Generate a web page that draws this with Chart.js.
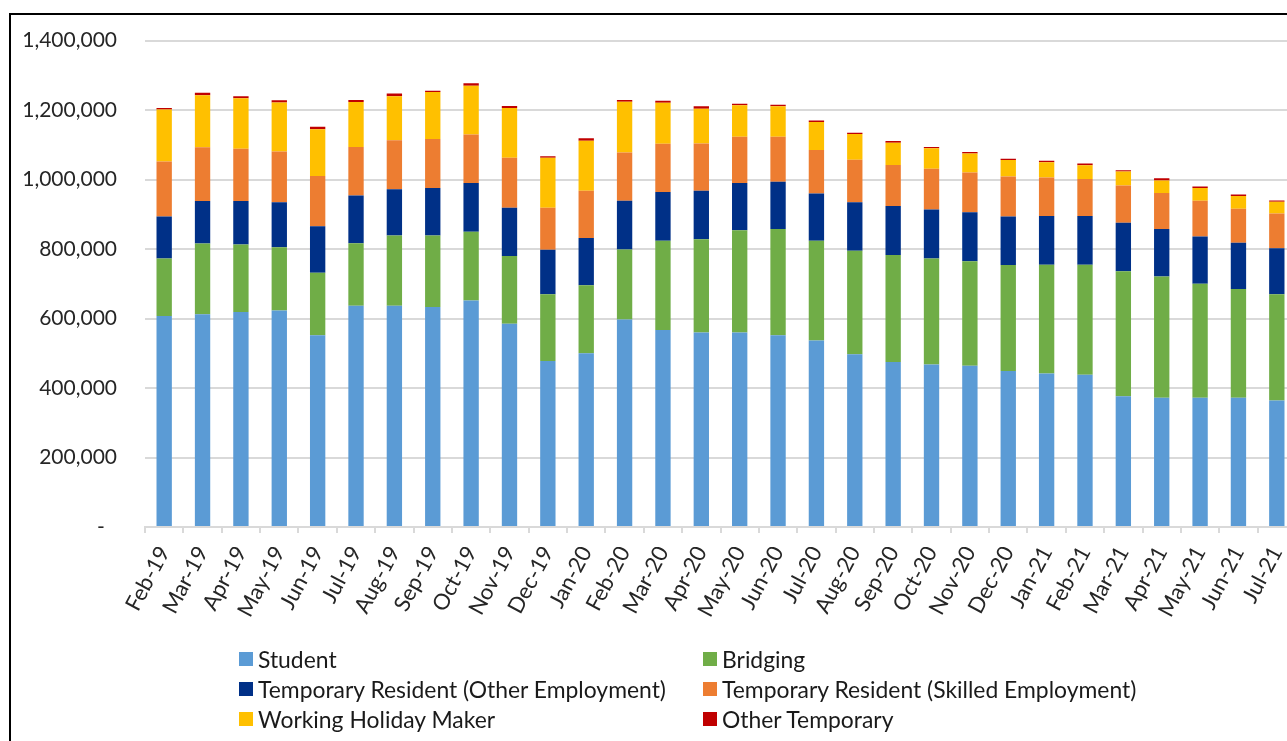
<!DOCTYPE html>
<html>
<head>
<meta charset="utf-8">
<script src="https://cdn.jsdelivr.net/npm/chart.js@4.4.1/dist/chart.umd.min.js"></script>
<style>
    html, body { margin: 0; padding: 0; background: #fff; overflow: hidden; width: 1287px; height: 741px; }
    #frame { position: absolute; left: 9px; top: 13px; width: 1400px; height: 800px; border-left: 2px solid #000; border-top: 2px solid #000; }
    #wrap { position: absolute; left: 0; top: 0; width: 1310px; height: 660px; }
    .legend-item { position: absolute; font: 22.9px Lato, sans-serif; color: #1a1a1a; white-space: nowrap; height: 30px; line-height: 30px; padding-left: 19px; }
    .legend-item span { position: absolute; left: 0; top: 8px; width: 14px; height: 14px; }
</style>
</head>
<body>
<div id="frame"></div>
<div id="wrap"><canvas id="chart"></canvas></div>
<div id="legend"></div>
<script>
/* ==========================================================
   DATA
   ========================================================== */
const months = ['Feb-19', 'Mar-19', 'Apr-19', 'May-19', 'Jun-19', 'Jul-19', 'Aug-19', 'Sep-19', 'Oct-19', 'Nov-19',
    'Dec-19', 'Jan-20', 'Feb-20', 'Mar-20', 'Apr-20', 'May-20', 'Jun-20', 'Jul-20', 'Aug-20', 'Sep-20',
    'Oct-20', 'Nov-20', 'Dec-20', 'Jan-21', 'Feb-21', 'Mar-21', 'Apr-21', 'May-21', 'Jun-21', 'Jul-21'];

const student = [607000, 612000, 619000, 623000, 552000, 637000, 637000, 633000, 652000, 585000,
    478000, 500000, 597000, 567000, 560000, 560000, 552000, 537000, 497000, 475000,
    468000, 464000, 449000, 442000, 438000, 376000, 372000, 372000, 372000, 364000];
const bridging = [166000, 204000, 194000, 182000, 180000, 180000, 202000, 206000, 198000, 195000,
    192000, 196000, 202000, 257000, 268000, 294000, 306000, 287000, 298000, 308000,
    305000, 301000, 305000, 313000, 317000, 360000, 349000, 328000, 313000, 306000];
const otherEmployment = [121000, 122000, 125000, 130000, 134000, 137000, 133000, 137000, 140000, 139000,
    128000, 136000, 140000, 140000, 140000, 136000, 136000, 136000, 140000, 141000,
    141000, 141000, 140000, 140000, 140000, 140000, 137000, 136000, 133000, 132000];
const skilledEmployment = [158000, 155000, 151000, 146000, 144000, 140000, 141000, 141000, 140000, 144000,
    121000, 136000, 139000, 139000, 136000, 133000, 129000, 125000, 122000, 118000,
    117000, 114000, 115000, 111000, 107000, 107000, 103000, 103000, 98000, 100000];
const workingHoliday = [150000, 150000, 145000, 141000, 135000, 129000, 127000, 135000, 140000, 143000,
    144000, 144000, 146000, 118000, 100000, 91000, 88000, 81000, 74000, 64000,
    59000, 55000, 47000, 44000, 39000, 40000, 36000, 37000, 37000, 34000];
const otherTemporary = [4000, 7000, 6000, 6000, 7000, 6000, 8000, 4000, 7000, 6000,
    4000, 7000, 5000, 6000, 7000, 4000, 4000, 4000, 4000, 5000,
    4000, 4000, 4000, 4000, 5000, 4000, 7000, 4000, 4000, 4000];

const seriesNames = ['Student', 'Bridging', 'Temporary Resident (Other Employment)',
    'Temporary Resident (Skilled Employment)', 'Working Holiday Maker', 'Other Temporary'];
const seriesData = [student, bridging, otherEmployment, skilledEmployment, workingHoliday, otherTemporary];
const seriesColors = ['#5b9bd5', '#70ad47', '#003087', '#ed7d31', '#ffc000', '#c00000'];

const yTicks = [0, 200000, 400000, 600000, 800000, 1000000, 1200000, 1400000];

/* ==========================================================
   CHART
   ========================================================== */
const FONT = 'Lato';
const TEXT = '#262626';
const GRID = '#d9d9d9';

const ctx = document.getElementById('chart').getContext('2d');
const chart = new Chart(ctx, {
    type: 'bar',
    data: {
        labels: months,
        datasets: seriesNames.map((name, i) => ({
            label: name,
            data: seriesData[i],
            backgroundColor: seriesColors[i],
            borderWidth: 0,
            barPercentage: 0.4,
            categoryPercentage: 1.0
        }))
    },
    options: {
        responsive: true,
        maintainAspectRatio: false,
        animation: false,
        layout: { padding: { top: 39, right: 14, bottom: 3, left: 0 } },
        plugins: {
            legend: { display: false },
            tooltip: { enabled: false }
        },
        scales: {
            x: {
                stacked: true,
                grid: { display: true, drawOnChartArea: false, drawTicks: true, tickLength: 6, color: GRID, lineWidth: 2 },
                border: { display: true, color: GRID, width: 2 },
                ticks: {
                    color: TEXT,
                    font: { family: FONT, size: 22 },
                    autoSkip: false,
                    minRotation: 62,
                    maxRotation: 62,
                    padding: 9
                },
                afterFit: (scale) => { scale.height = 130; }
            },
            y: {
                stacked: true,
                min: 0,
                max: 1400000,
                afterBuildTicks: (scale) => { scale.ticks = yTicks.map(v => ({ value: v })); },
                grid: { color: GRID, lineWidth: 2, drawTicks: false },
                border: { display: false },
                ticks: {
                    color: TEXT,
                    font: { family: FONT, size: 21 },
                    padding: 28,
                    callback: (v) => v === 0 ? '-\u2007' : v.toLocaleString('en-US')
                },
                afterFit: (scale) => { scale.width = 145; }
            }
        }
    }
});

/* ==========================================================
   LEGEND (two columns, built from the series arrays)
   ========================================================== */
const legend = document.getElementById('legend');
const colX = [239, 703];
const rowY = [644, 674, 704];
seriesNames.forEach((name, i) => {
    const item = document.createElement('div');
    item.className = 'legend-item';
    item.style.left = colX[i % 2] + 'px';
    item.style.top = rowY[Math.floor(i / 2)] + 'px';
    const sw = document.createElement('span');
    sw.style.background = seriesColors[i];
    item.appendChild(sw);
    item.appendChild(document.createTextNode(name));
    legend.appendChild(item);
});
</script>
</body>
</html>
